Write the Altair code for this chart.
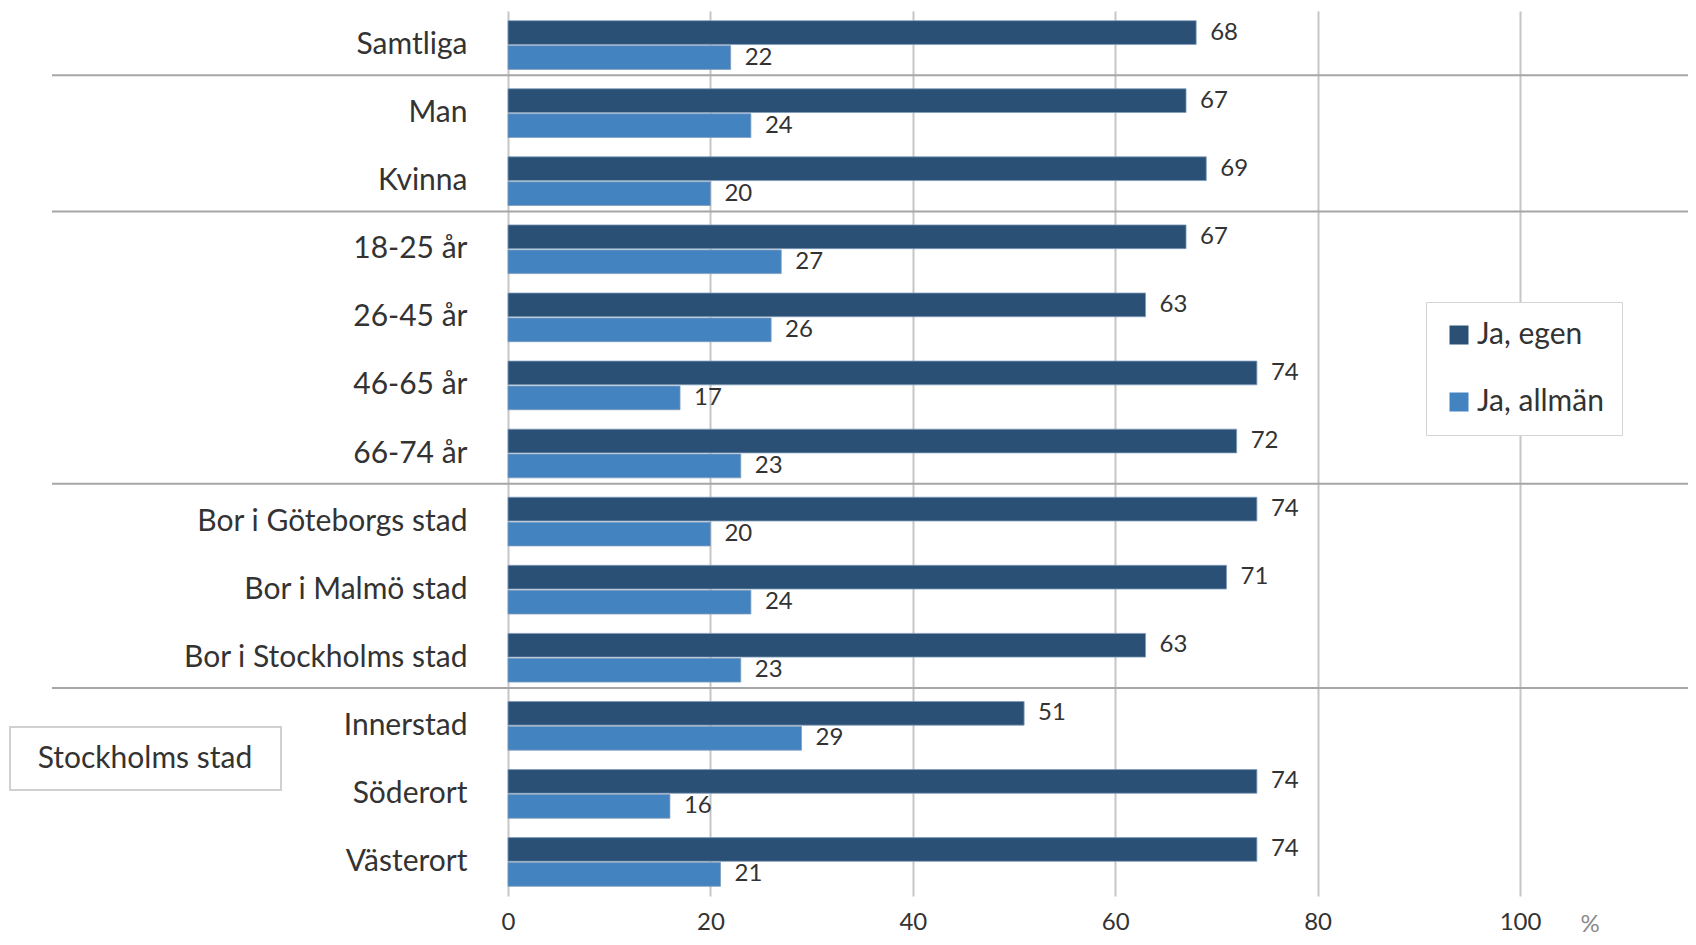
import altair as alt
import pandas as pd

categories = ["Samtliga", "Man", "Kvinna", "18-25 år", "26-45 år", "46-65 år", "66-74 år",
              "Bor i Göteborgs stad", "Bor i Malmö stad", "Bor i Stockholms stad",
              "Innerstad", "Söderort", "Västerort"]
egen = [68, 67, 69, 67, 63, 74, 72, 74, 71, 63, 51, 74, 74]
allman = [22, 24, 20, 27, 26, 17, 23, 20, 24, 23, 29, 16, 21]
series = ["Ja, egen", "Ja, allmän"]
colors = ["#2a5075", "#4383c0"]
x_ticks = [0, 20, 40, 60, 80, 100]
separators_before = ["Man", "18-25 år", "Bor i Göteborgs stad", "Innerstad"]
box_label = ["Stockholms stad"]
unit_label = ["%"]

rows = []
for c, e, a in zip(categories, egen, allman):
    rows.append({"category": c, "series": series[0], "value": e})
    rows.append({"category": c, "series": series[1], "value": a})
df = pd.DataFrame(rows)

FONT = "Lato"
TXT = "#333333"

y_enc = alt.Y("category:N", sort=categories,
              scale=alt.Scale(paddingInner=0.285, paddingOuter=0.1425),
              axis=alt.Axis(title=None, labelFontSize=30, labelColor=TXT, labelPadding=41,
                            ticks=False, domain=False, labelFont=FONT, labelLimit=500))
x_enc = alt.X("value:Q", stack=None,
              scale=alt.Scale(domain=[0, 100], nice=False),
              axis=alt.Axis(values=x_ticks, title=None, grid=True, gridColor="#c6c6c6",
                            gridWidth=2, ticks=False, domain=False, labelFontSize=24,
                            labelPadding=14, labelColor=TXT, labelFont=FONT,
                            labelFlush=False))
yoff = alt.YOffset("series:N", sort=series, scale=alt.Scale(paddingInner=0.05))

base = alt.Chart(df)

bars = base.mark_bar(stroke="#7f9cbb", strokeWidth=0.8).encode(
    x=x_enc, y=y_enc, yOffset=yoff,
    color=alt.Color("series:N", sort=series,
                    scale=alt.Scale(domain=series, range=colors),
                    legend=alt.Legend(title=None, orient="none", legendX=918, legendY=291,
                                      fillColor="white", strokeColor="#d4d4d4",
                                      padding=18, symbolType="square", symbolSize=361,
                                      symbolStrokeWidth=0,
                                      labelFontSize=30, labelColor=TXT, labelFont=FONT,
                                      rowPadding=37, labelOffset=3))
)

labels = base.mark_text(align="left", baseline="middle", dx=14, fontSize=24,
                        font=FONT, color=TXT).encode(
    x=alt.X("value:Q", stack=None), y=alt.Y("category:N", sort=categories),
    yOffset=yoff, text="value:Q"
)

sep_df = pd.DataFrame({"category": separators_before})
seps = alt.Chart(sep_df).mark_rule(color="#a6a6a6", strokeWidth=2, yOffset=-13.5).encode(
    y=alt.Y("category:N", sort=categories, bandPosition=0),
    x=alt.value(-456), x2=alt.value(1190)
)

box_df = pd.DataFrame({"label": box_label})
box = alt.Chart(box_df).mark_rect(fill="white", stroke="#d0d0d0", strokeWidth=2).encode(
    x=alt.value(-498), x2=alt.value(-227), y=alt.value(716), y2=alt.value(779)
)
box_text = alt.Chart(box_df).mark_text(fontSize=30, font=FONT, color=TXT,
                                       align="center", baseline="middle").encode(
    x=alt.value(-363), y=alt.value(748), text="label:N"
)

unit_df = pd.DataFrame({"label": unit_label})
unit = alt.Chart(unit_df).mark_text(fontSize=24, font=FONT, color="#8a8a8a",
                                    align="center", baseline="top").encode(
    x=alt.value(1082), y=alt.value(902), text="label:N"
)

chart = alt.layer(seps, bars, labels, box, box_text, unit).properties(
    width=1012, height=885,
    autosize=alt.AutoSizeParams(type="none"),
    padding={"left": 500, "top": 3, "right": 168, "bottom": 41}
).configure(font=FONT).configure_view(stroke=None)

chart.save("out.html", embed_options={"renderer": "svg", "actions": False})
